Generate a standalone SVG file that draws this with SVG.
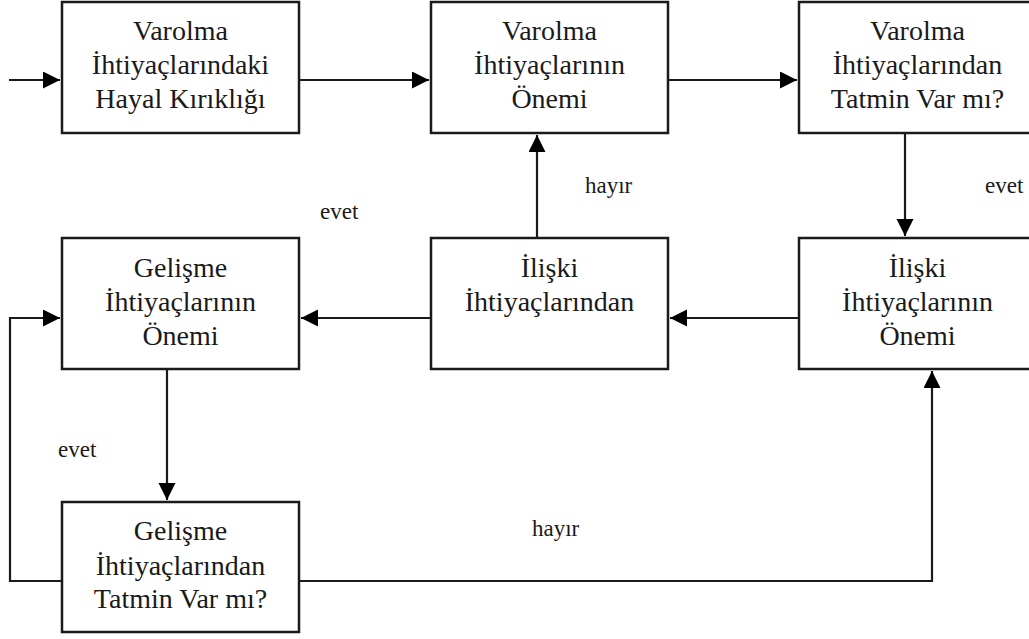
<svg xmlns="http://www.w3.org/2000/svg" width="1029" height="639" viewBox="0 0 1029 639">
<defs>
<style>
.box{fill:#fff;stroke:#1a1a1a;stroke-width:2.5}
.t{font-family:"Liberation Serif","Times New Roman",serif;font-size:28px;fill:#1a1a1a;text-anchor:middle}
.l{font-family:"Liberation Serif","Times New Roman",serif;font-size:23px;fill:#1a1a1a}
.c{fill:none;stroke:#1a1a1a;stroke-width:2.2}
</style>
<marker id="ah" markerUnits="userSpaceOnUse" markerWidth="18" markerHeight="18" refX="17" refY="8.5" orient="auto">
<path d="M0,0 L17,8.5 L0,17 z" fill="#000"/>
</marker>
</defs>
<rect width="1029" height="639" fill="#fff"/>
<g id="connectors">
<path class="c" d="M9,80 H60" marker-end="url(#ah)"/>
<path class="c" d="M299,80 H429" marker-end="url(#ah)"/>
<path class="c" d="M668,80 H797" marker-end="url(#ah)"/>
<path class="c" d="M905,133 V236" marker-end="url(#ah)"/>
<path class="c" d="M537,238 V135" marker-end="url(#ah)"/>
<path class="c" d="M799,318 H670" marker-end="url(#ah)"/>
<path class="c" d="M431,318 H301" marker-end="url(#ah)"/>
<path class="c" d="M167,369 V500" marker-end="url(#ah)"/>
<path class="c" d="M62,581 H10 V318 H60" marker-end="url(#ah)"/>
<path class="c" d="M299,581 H932 V371" marker-end="url(#ah)"/>
</g>
<g id="n1"><rect class="box" x="62" y="2" width="237" height="131"/>
<text class="t" x="180.5" y="40">Varolma</text><text class="t" x="180.5" y="74">İhtiyaçlarındaki</text><text class="t" x="180.5" y="108">Hayal Kırıklığı</text></g>
<g id="n2"><rect class="box" x="431" y="2" width="237" height="131"/>
<text class="t" x="549.5" y="40">Varolma</text><text class="t" x="549.5" y="74">İhtiyaçlarının</text><text class="t" x="549.5" y="108">Önemi</text></g>
<g id="n3"><rect class="box" x="799" y="2" width="237" height="131"/>
<text class="t" x="917.5" y="40">Varolma</text><text class="t" x="917.5" y="74">İhtiyaçlarından</text><text class="t" x="917.5" y="108">Tatmin Var mı?</text></g>
<g id="n4"><rect class="box" x="62" y="238" width="237" height="131"/>
<text class="t" x="180.5" y="277">Gelişme</text><text class="t" x="180.5" y="311">İhtiyaçlarının</text><text class="t" x="180.5" y="345">Önemi</text></g>
<g id="n5"><rect class="box" x="431" y="238" width="237" height="131"/>
<text class="t" x="549.5" y="277">İlişki</text><text class="t" x="549.5" y="311">İhtiyaçlarından</text></g>
<g id="n6"><rect class="box" x="799" y="238" width="237" height="131"/>
<text class="t" x="917.5" y="277">İlişki</text><text class="t" x="917.5" y="311">İhtiyaçlarının</text><text class="t" x="917.5" y="345">Önemi</text></g>
<g id="n7"><rect class="box" x="62" y="502" width="237" height="130"/>
<text class="t" x="180.5" y="540">Gelişme</text><text class="t" x="180.5" y="575">İhtiyaçlarından</text><text class="t" x="180.5" y="608">Tatmin Var mı?</text></g>
<g id="labels">
<text class="l" x="585" y="193">hayır</text>
<text class="l" x="985" y="193">evet</text>
<text class="l" x="320" y="219">evet</text>
<text class="l" x="58" y="457">evet</text>
<text class="l" x="532" y="536">hayır</text>
</g>
</svg>
